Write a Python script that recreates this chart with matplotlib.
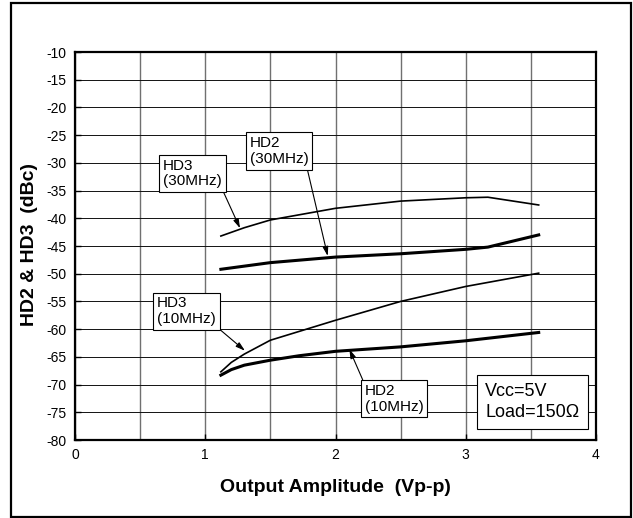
import matplotlib
matplotlib.use("Agg")
import matplotlib.pyplot as plt
from matplotlib.patches import Rectangle
from matplotlib.ticker import MultipleLocator
import numpy as np

plt.rcParams['font.family'] = ['Liberation Sans', 'DejaVu Sans']
plt.rcParams['axes.unicode_minus'] = False

# curves
hd3_30_x = [1.12, 1.3, 1.5, 2.0, 2.5, 3.0, 3.17, 3.56]
hd3_30_y = [-43.2, -41.7, -40.3, -38.2, -36.9, -36.3, -36.2, -37.6]

hd2_30_x = [1.12, 1.5, 2.0, 2.5, 3.0, 3.17, 3.56]
hd2_30_y = [-49.2, -48.0, -47.0, -46.4, -45.6, -45.2, -43.0]

hd3_10_x = [1.12, 1.2, 1.3, 1.5, 2.0, 2.5, 3.0, 3.56]
hd3_10_y = [-67.7, -66.0, -64.5, -62.0, -58.4, -55.0, -52.3, -49.9]

hd2_10_x = [1.12, 1.2, 1.3, 1.5, 1.72, 2.0, 2.5, 3.0, 3.56]
hd2_10_y = [-68.3, -67.3, -66.5, -65.6, -64.8, -64.0, -63.2, -62.1, -60.6]

# label text, text anchor, arrow tip
labels = ["HD3\n(30MHz)", "HD2\n(30MHz)", "HD3\n(10MHz)", "HD2\n(10MHz)"]
label_xy = [(0.676, -29.25), (1.340, -25.2), (0.630, -54.1), (2.223, -69.9)]
tip_xy = [(1.267, -41.8), (1.940, -46.8), (1.305, -63.9), (2.106, -63.6)]
arrow_from = [(1, 0), (0.97, 0), (1, 0), (0, 1)]

fig = plt.figure(figsize=(6.33, 5.18), dpi=100)
ax = fig.add_axes([75 / 633, 1 - 440 / 518, 521 / 633, 388 / 518])

ax.plot(hd3_30_x, hd3_30_y, color="black", lw=1.2)
ax.plot(hd2_30_x, hd2_30_y, color="black", lw=2.2)
ax.plot(hd3_10_x, hd3_10_y, color="black", lw=1.2)
ax.plot(hd2_10_x, hd2_10_y, color="black", lw=2.2)

ax.set_xlim(0, 4)
ax.set_ylim(-80, -10)
ax.xaxis.set_major_locator(MultipleLocator(1))
ax.xaxis.set_minor_locator(MultipleLocator(0.5))
ax.yaxis.set_major_locator(MultipleLocator(5))

ax.grid(axis="x", which="both", color="#707070", lw=1.0)
ax.grid(axis="y", which="major", color="#111111", lw=0.7)
ax.set_axisbelow(True)

ax.tick_params(direction="in", length=4, width=1, labelsize=10, pad=6)
ax.tick_params(which="minor", length=0)
for s in ax.spines.values():
    s.set_linewidth(1.6)

for txt, xy, tip, rel in zip(labels, label_xy, tip_xy, arrow_from):
    ax.annotate(txt, xy=tip, xytext=xy, ha="left", va="top", fontsize=11,
                linespacing=1.15,
                bbox=dict(boxstyle="square,pad=0.25", fc="white", ec="black", lw=0.8),
                arrowprops=dict(arrowstyle="-|>,head_length=0.5,head_width=0.15",
                                color="black", lw=0.8, relpos=rel,
                                shrinkA=0, shrinkB=0))

ax.text(3.15, -69.8, "Vcc=5V\nLoad=150Ω", ha="left", va="top", fontsize=13,
        linespacing=1.25,
        bbox=dict(boxstyle="square,pad=0.45", fc="white", ec="black", lw=0.8))

fig.text(335.5 / 633, 1 - 488 / 518, "Output Amplitude  (Vp-p)", ha="center",
         va="center", fontsize=14, fontweight="bold")
fig.text(30 / 633, 1 - 244 / 518, "HD2 & HD3  (dBc)", ha="center", va="center",
         rotation=90, fontsize=14, fontweight="bold")

fig.add_artist(Rectangle((11 / 633, 1 / 518), 620 / 633, 514 / 518,
                         transform=fig.transFigure, fill=False,
                         ec="black", lw=1.6))

fig.savefig("out.png", dpi=100)
